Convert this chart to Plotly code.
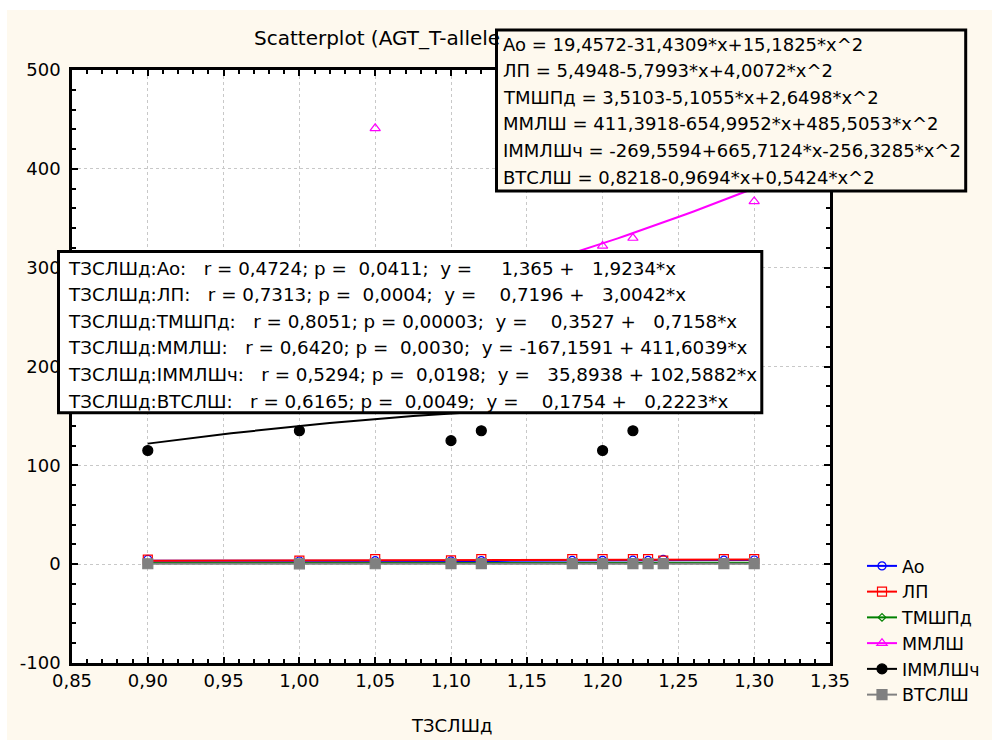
import numpy as np
import plotly.graph_objects as go

# ---------------- data ----------------
x_vals = [0.90, 1.00, 1.05, 1.10, 1.12, 1.18, 1.20, 1.22, 1.23, 1.24, 1.28, 1.30]

ao_vals     = [4.8, 3.2, 3.5, 3.3, 3.6, 3.8, 3.9, 4.0, 3.8, 4.8, 4.0, 4.2]
lp_vals     = [4.5, 3.6, 5.2, 3.8, 5.2, 5.2, 5.2, 5.2, 5.2, 3.6, 5.2, 5.2]
tmshpd_vals = [1.0, 0.9, 1.1, 1.0, 1.1, 1.2, 1.2, 1.3, 1.2, 1.3, 1.3, 1.4]
mmlsh_vals  = [None, None, 441, None, None, None, 322, 330, None, None, None, 367]
immlshch_vals = [115, 135, None, 125, 135, None, 115, 135, None, None, None, None]
vtslsh_vals = [0.4, 0.35, 0.4, 0.45, 0.45, 0.5, 0.45, 0.5, 0.45, 0.5, 0.5, 0.55]

series_names = ["Ao", "ЛП", "ТМШПд", "ММЛШ", "ІММЛШч", "ВТСЛШ"]

# quadratic fit coefficients shown in the chart (a + b*x + c*x^2)
coef_ao       = [19.4572, -31.4309, 15.1825]
coef_lp       = [5.4948, -5.7993, 4.0072]
coef_tmshpd   = [3.5103, -5.1055, 2.6498]
coef_mmlsh    = [411.3918, -654.9952, 485.5053]
coef_immlshch = [-269.5594, 665.7124, -256.3285]
coef_vtslsh   = [0.8218, -0.9694, 0.5424]
fit_range = [0.90, 1.30]

y_tickvals = [-100, 0, 100, 200, 300, 400, 500]
y_ticktext = ["-100", "0", "100", "200", "300", "400", "500"]

quad_lines = [
    "Ao = 19,4572-31,4309*x+15,1825*x^2",
    "ЛП = 5,4948-5,7993*x+4,0072*x^2",
    "ТМШПд = 3,5103-5,1055*x+2,6498*x^2",
    "ММЛШ = 411,3918-654,9952*x+485,5053*x^2",
    "ІММЛШч = -269,5594+665,7124*x-256,3285*x^2",
    "ВТСЛШ = 0,8218-0,9694*x+0,5424*x^2",
]
lin_lines = [
    "ТЗСЛШд:Ao:   r = 0,4724; p =  0,0411;  y =     1,365 +   1,9234*x",
    "ТЗСЛШд:ЛП:   r = 0,7313; p =  0,0004;  y =    0,7196 +   3,0042*x",
    "ТЗСЛШд:ТМШПд:   r = 0,8051; p = 0,00003;  y =    0,3527 +   0,7158*x",
    "ТЗСЛШд:ММЛШ:   r = 0,6420; p =  0,0030;  y = -167,1591 + 411,6039*x",
    "ТЗСЛШд:ІММЛШч:   r = 0,5294; p =  0,0198;  y =   35,8938 + 102,5882*x",
    "ТЗСЛШд:ВТСЛШ:   r = 0,6165; p =  0,0049;  y =    0,1754 +   0,2223*x",
]
title_text = "Scatterplot (AGT_T-allele"
x_title = "ТЗСЛШд"

# ---------------- styles ----------------
W, H = 992, 740
L, R, T, B = 72, 162, 70, 77
PW, PH = W - L - R, H - T - B
FONT = "DejaVu Sans"
CREAM = "#FEF9EE"

def xp(px):
    return (px - L) / PW

def yp(py):
    return (H - B - py) / PH

styles = [
    dict(color="blue", symbol="circle-open", size=8),
    dict(color="red", symbol="square-open", size=9),
    dict(color="green", symbol="diamond-open", size=6),
    dict(color="magenta", symbol="triangle-up-open", size=9),
    dict(color="black", symbol="circle", size=10),
    dict(color="gray", symbol="square", size=10),
]
all_vals = [ao_vals, lp_vals, tmshpd_vals, mmlsh_vals, immlshch_vals, vtslsh_vals]
all_coefs = [coef_ao, coef_lp, coef_tmshpd, coef_mmlsh, coef_immlshch, coef_vtslsh]

fig = go.Figure()
xf = np.linspace(fit_range[0], fit_range[1], 81)
for name, vals, coef, st in zip(series_names, all_vals, all_coefs, styles):
    yf = coef[0] + coef[1] * xf + coef[2] * xf ** 2
    fig.add_trace(go.Scatter(x=xf, y=yf, mode="lines", showlegend=False,
                             line=dict(color=st["color"], width=2), hoverinfo="skip"))
    fig.add_trace(go.Scatter(x=x_vals, y=vals, mode="markers", showlegend=False,
                             marker=dict(color=st["color"], symbol=st["symbol"], size=st["size"],
                                         line=dict(color=st["color"], width=1.2))))
for name, st in zip(series_names, styles):
    fig.add_trace(go.Scatter(x=[None], y=[None], mode="lines+markers", name=name,
                             line=dict(color=st["color"], width=2),
                             marker=dict(color=st["color"], symbol=st["symbol"], size=st["size"],
                                         line=dict(color=st["color"], width=1.2))))

shapes = [
    # white strips at page edges
    dict(type="rect", xref="paper", yref="paper", x0=xp(0), x1=xp(W), y0=yp(10), y1=yp(0),
         fillcolor="white", line=dict(width=0), layer="below"),
    dict(type="rect", xref="paper", yref="paper", x0=xp(0), x1=xp(7), y0=yp(H), y1=yp(0),
         fillcolor="white", line=dict(width=0), layer="below"),
    # equation boxes
    dict(type="rect", xref="paper", yref="paper", x0=xp(496.5), x1=xp(965.7), y0=yp(191), y1=yp(30),
         fillcolor=CREAM, line=dict(color="black", width=3), layer="above"),
    dict(type="rect", xref="paper", yref="paper", x0=xp(58.5), x1=xp(761.8), y0=yp(412.8), y1=yp(251.5),
         fillcolor="white", line=dict(color="black", width=3), layer="above"),
]

annotations = [
    dict(text=title_text, xref="paper", yref="paper", x=xp(252), y=yp(38),
         xanchor="left", yanchor="middle", showarrow=False, font=dict(family=FONT, size=20, color="black")),
    dict(text=x_title, xref="paper", yref="paper", x=0.5, y=yp(725),
         xanchor="center", yanchor="middle", showarrow=False, font=dict(family=FONT, size=18, color="black")),
]
nb = lambda s: s.replace(" ", "\u00a0")
for i, t in enumerate(quad_lines):
    annotations.append(dict(text=nb(t), xref="paper", yref="paper", x=xp(501), y=yp(44 + 26.6 * i),
                            xanchor="left", yanchor="middle", showarrow=False,
                            font=dict(family=FONT, size=18, color="black")))
for i, t in enumerate(lin_lines):
    annotations.append(dict(text=nb(t), xref="paper", yref="paper", x=xp(66), y=yp(268 + 26.6 * i),
                            xanchor="left", yanchor="middle", showarrow=False,
                            font=dict(family=FONT, size=18.3, color="black")))

axis_common = dict(showline=True, linecolor="black", linewidth=2.5, mirror="allticks",
                   ticks="inside", ticklen=6, tickwidth=1.5, tickcolor="black",
                   showgrid=True, gridcolor="#c8c8c8", griddash="3px,3px", gridwidth=1,
                   zeroline=False, tickfont=dict(family=FONT, size=18, color="black"))

fig.update_layout(
    width=W, height=H,
    margin=dict(l=L, r=R, t=T, b=B, autoexpand=False),
    paper_bgcolor=CREAM, plot_bgcolor="white",
    separators=", ",
    font=dict(family=FONT, size=18, color="black"),
    xaxis=dict(range=[0.85, 1.35], dtick=0.05, tick0=0.85, tickformat=".2f",
               minor=dict(dtick=0.01, ticks="inside", ticklen=4, tickcolor="black", showgrid=False),
               **axis_common),
    yaxis=dict(range=[-100, 500], tickmode="array", tickvals=y_tickvals, ticktext=y_ticktext,
               ticklabelstandoff=5,
               minor=dict(dtick=20, tick0=0, ticks="inside", ticklen=4, tickcolor="black", showgrid=False),
               **axis_common),
    legend=dict(x=xp(862), y=yp(548), xanchor="left", yanchor="top",
                bgcolor="rgba(0,0,0,0)", font=dict(family=FONT, size=17.5), tracegroupgap=0),
    shapes=shapes,
    annotations=annotations,
    showlegend=True,
)

fig.write_html("out.html", post_script="document.documentElement.style.background='#FEF9EE';document.body.style.background='#FEF9EE';")
